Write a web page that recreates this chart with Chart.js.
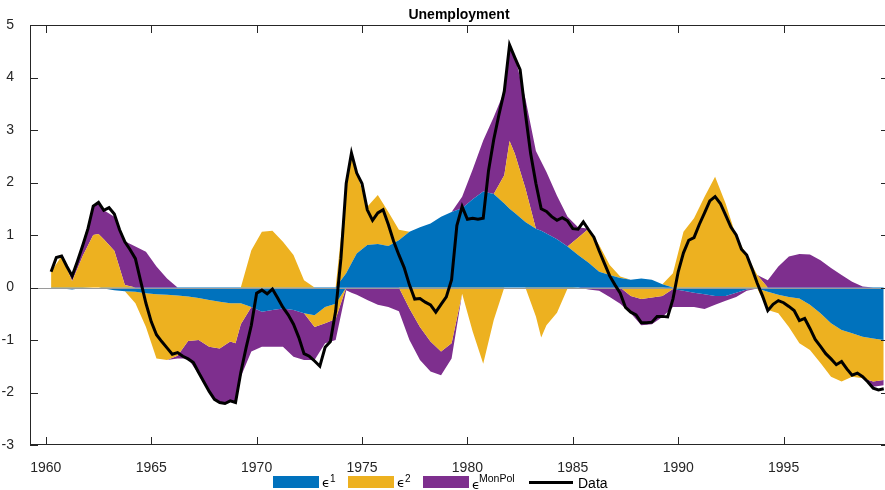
<!DOCTYPE html>
<html>
<head>
<meta charset="utf-8">
<script src="https://cdn.jsdelivr.net/npm/chart.js@4.4.1/dist/chart.umd.min.js"></script>
<style>
  html, body { margin: 0; padding: 0; overflow: hidden; background: #fff; width: 885px; height: 490px; }
  #wrap { position: absolute; left: 0; top: 0; width: 890px; height: 490px; }
  .t { position: absolute; white-space: nowrap; font-family: "Liberation Sans", Arial, Helvetica, sans-serif; color: #000; line-height: 14px; }
  .box { position: absolute; }
</style>
</head>
<body>
<div id="wrap"><canvas id="c" width="890" height="490"></canvas></div>
<div class="t" style="left:0;width:918px;top:7px;text-align:center;font-weight:bold;font-size:14px;">Unemployment</div>

<div class="box" style="left:273px;top:476px;width:46px;height:12px;background:#0072BD"></div>
<div class="t" style="left:322px;top:476px;font-size:13px;font-family:'DejaVu Sans',sans-serif;">ϵ</div>
<div class="t" style="left:330px;top:472px;font-size:10px;">1</div>

<div class="box" style="left:348px;top:476px;width:46px;height:12px;background:#EDB120"></div>
<div class="t" style="left:397px;top:476px;font-size:13px;font-family:'DejaVu Sans',sans-serif;">ϵ</div>
<div class="t" style="left:405px;top:472px;font-size:10px;">2</div>

<div class="box" style="left:423px;top:476px;width:46px;height:12px;background:#7E2F8E"></div>
<div class="t" style="left:472px;top:478px;font-size:13px;font-family:'DejaVu Sans',sans-serif;">ϵ</div>
<div class="t" style="left:479px;top:471px;font-size:10.5px;">MonPol</div>

<div class="box" style="left:529px;top:480.5px;width:44px;height:3px;background:#000"></div>
<div class="t" style="left:578px;top:476px;font-size:14px;">Data</div>

<script>
// ---------- data ----------
const xTicks = [1960, 1965, 1970, 1975, 1980, 1985, 1990, 1995];
const yTicks = [-3, -2, -1, 0, 1, 2, 3, 4, 5];

// dates of the decomposition values (mostly half-yearly)
const areaYears = [
  1960.25, 1960.75, 1961.25, 1961.75, 1962.25, 1962.5, 1962.75, 1963.25, 1963.75, 1964.25,
  1964.75, 1965.25, 1965.75, 1966.25, 1966.75, 1967.25, 1967.75, 1968.25, 1968.75, 1969.0,
  1969.25, 1969.75, 1970.25, 1970.75, 1971.25, 1971.75, 1972.25, 1972.75, 1973.25, 1973.75,
  1974.25, 1974.5, 1974.75, 1975.25, 1975.75, 1976.25, 1976.75, 1977.25, 1977.75, 1978.25,
  1978.75, 1979.25, 1979.75, 1980.25, 1980.75, 1981.25, 1981.75, 1982.0, 1982.25, 1982.75,
  1983.25, 1983.5, 1983.75, 1984.25, 1984.75, 1985.25, 1985.75, 1986.25, 1986.75, 1987.25,
  1987.75, 1988.25, 1988.75, 1989.25, 1989.75, 1990.25, 1990.75, 1991.25, 1991.75, 1992.25,
  1992.75, 1993.25, 1993.75, 1994.25, 1994.75, 1995.25, 1995.75, 1996.25, 1996.75, 1997.25,
  1997.75, 1998.25, 1998.75, 1999.25, 1999.75
];
const shock1 = [
  -0.01, -0.02, -0.04, -0.01, 0.00, 0.00, -0.02, -0.05, -0.07, -0.08,
  -0.11, -0.13, -0.14, -0.15, -0.17, -0.20, -0.24, -0.27, -0.30, -0.30,
  -0.30, -0.37, -0.46, -0.43, -0.40, -0.43, -0.49, -0.53, -0.37, -0.31,
  0.27, 0.46, 0.65, 0.81, 0.83, 0.79, 0.90, 1.06, 1.15, 1.22,
  1.35, 1.44, 1.51, 1.68, 1.83, 1.78, 1.60, 1.50, 1.42, 1.25,
  1.12, 1.08, 1.03, 0.92, 0.78, 0.62, 0.47, 0.30, 0.24, 0.18,
  0.15, 0.17, 0.15, 0.06, -0.03, -0.06, -0.10, -0.13, -0.16, -0.16,
  -0.10, -0.04, -0.02, -0.08, -0.14, -0.18, -0.21, -0.33, -0.49, -0.68,
  -0.81, -0.87, -0.94, -0.97, -1.00
];
const shock2 = [
  0.30, 0.60, 0.12, 0.60, 1.00, 1.02, 0.92, 0.70, 0.05, -0.22,
  -0.64, -1.22, -1.24, -1.15, -0.85, -0.80, -0.89, -0.89, -0.73, -0.76,
  -0.40, 0.71, 1.06, 1.08, 0.87, 0.62, 0.14, -0.22, -0.31, -0.29,
  1.65, 2.04, 1.53, 0.73, 0.93, 0.65, 0.20, -0.40, -0.75, -1.03,
  -1.22, -1.06, -0.12, -0.84, -1.45, -0.62, 0.54, 1.29, 1.13, 0.64,
  -0.55, -0.95, -0.72, -0.48, -0.02, 0.33, 0.65, 0.51, 0.19, 0.03,
  -0.16, -0.22, -0.19, -0.16, 0.27, 1.06, 1.32, 1.73, 2.11, 1.60,
  0.97, 0.62, 0.24, -0.35, -0.35, -0.57, -0.85, -0.86, -0.95, -1.02,
  -0.98, -0.83, -0.79, -0.82, -0.76
];
const shockMonPol = [
  0.00, 0.00, 0.08, 0.25, 0.54, 0.60, 0.55, 0.65, 0.83, 0.78,
  0.68, 0.40, 0.17, -0.05, -0.33, -0.65, -0.85, -1.06, -1.15, -1.13,
  -1.00, -0.85, -0.67, -0.70, -0.73, -0.89, -0.89, -0.63, -0.38, -0.40,
  -0.05, -0.10, -0.14, -0.24, -0.33, -0.37, -0.45, -0.60, -0.63, -0.57,
  -0.45, -0.29, 0.22, 0.57, 0.97, 1.47, 1.60, 1.83, 1.85, 1.71,
  1.48, 1.32, 1.17, 0.83, 0.57, 0.20, -0.04, -0.06, -0.18, -0.31,
  -0.33, -0.50, -0.51, -0.40, -0.34, -0.31, -0.27, -0.28, -0.17, -0.09,
  -0.08, -0.02, 0.00, 0.14, 0.40, 0.59, 0.64, 0.63, 0.52, 0.37,
  0.24, 0.11, 0.02, -0.10, -0.10
];

// quarterly unemployment data, starting 1960.25
const dataStart = 1960.25;
const dataStep = 0.25;
const dataValues = [
  0.30, 0.57, 0.60,
  0.40, 0.22, 0.50, 0.80,
  1.12, 1.55, 1.62, 1.47,
  1.52, 1.40, 1.10, 0.87,
  0.72, 0.55, 0.12, -0.30,
  -0.65, -0.90, -1.03, -1.15,
  -1.27, -1.24, -1.31, -1.36,
  -1.43, -1.62, -1.80, -1.98,
  -2.13, -2.19, -2.21, -2.16,
  -2.19, -1.62, -1.15, -0.72,
  -0.11, -0.05, -0.12, -0.03,
  -0.20, -0.38, -0.52, -0.70,
  -0.95, -1.26, -1.31, -1.40,
  -1.50, -1.14, -1.03, -0.45,
  0.55, 1.98, 2.56, 2.18,
  1.98, 1.48, 1.28, 1.42,
  1.48, 1.20, 0.88, 0.62,
  0.38, 0.05, -0.22, -0.21,
  -0.28, -0.33, -0.47, -0.32,
  -0.18, 0.15, 1.18, 1.54,
  1.30, 1.32, 1.30, 1.32,
  2.22, 2.82, 3.30, 3.74,
  4.62, 4.38, 4.15, 3.32,
  2.55, 1.98, 1.50, 1.45,
  1.35, 1.28, 1.33, 1.27,
  1.12, 1.11, 1.25, 1.10,
  0.96, 0.70, 0.46, 0.22,
  0.05, -0.11, -0.38, -0.47,
  -0.52, -0.67, -0.67, -0.66,
  -0.55, -0.55, -0.56, -0.22,
  0.30, 0.66, 0.90, 0.95,
  1.20, 1.42, 1.65, 1.73,
  1.60, 1.38, 1.15, 1.00,
  0.73, 0.62, 0.36, 0.08,
  -0.16, -0.44, -0.32, -0.25,
  -0.29, -0.36, -0.44, -0.63,
  -0.59, -0.78, -0.99, -1.12,
  -1.26, -1.36, -1.47, -1.41,
  -1.55, -1.67, -1.63, -1.70,
  -1.80, -1.92, -1.95, -1.93
];

// ---------- build ----------
const BLUE = '#0072BD', YELLOW = '#EDB120', PURPLE = '#7E2F8E';
const pos = arr => arr.map((v, i) => ({ x: areaYears[i], y: Math.max(v, 0) }));
const neg = arr => arr.map((v, i) => ({ x: areaYears[i], y: Math.min(v, 0) }));

function areaDs(data, color, stack, fill) {
  return {
    data, stack, fill,
    backgroundColor: color, borderColor: color, borderWidth: 0,
    pointRadius: 0, tension: 0, order: 1
  };
}

const datasets = [
  areaDs(pos(shock1), BLUE, 'pos', 'origin'),
  areaDs(pos(shock2), YELLOW, 'pos', '-1'),
  areaDs(pos(shockMonPol), PURPLE, 'pos', '-1'),
  areaDs(neg(shock1), BLUE, 'neg', 'origin'),
  areaDs(neg(shock2), YELLOW, 'neg', '-1'),
  areaDs(neg(shockMonPol), PURPLE, 'neg', '-1'),
  {
    data: dataValues.map((v, i) => ({ x: dataStart + i * dataStep, y: v })),
    stack: 'data', fill: false,
    borderColor: '#000', borderWidth: 3, pointRadius: 0, tension: 0,
    borderJoinStyle: 'miter', order: 0
  }
];

const AX = '#262626';
const FONT = { family: "'Liberation Sans', Arial, Helvetica, sans-serif", size: 14 };

const axisBox = {
  id: 'axisBox',
  beforeDatasetDraw(chart, args) {
    if (args.index !== 6) return;
    const { ctx, chartArea: a, scales: { y } } = chart;
    const y0 = Math.round(y.getPixelForValue(0)) + 0.5;
    ctx.save();
    ctx.strokeStyle = '#9a9a9a';
    ctx.lineWidth = 1;
    ctx.beginPath(); ctx.moveTo(a.left, y0); ctx.lineTo(a.right, y0); ctx.stroke();
    ctx.restore();
  },
  afterDraw(chart) {
    const { ctx, chartArea: a, scales: { x, y } } = chart;
    ctx.save();
    ctx.strokeStyle = AX;
    ctx.lineWidth = 1;
    ctx.strokeRect(a.left + 0.5, a.top + 0.5, a.right - a.left - 1, a.bottom - a.top - 1);
    const L = 8;
    ctx.beginPath();
    xTicks.forEach(v => {
      const px = Math.round(x.getPixelForValue(v)) + 0.5;
      ctx.moveTo(px, a.bottom); ctx.lineTo(px, a.bottom - L);
      ctx.moveTo(px, a.top); ctx.lineTo(px, a.top + L);
    });
    yTicks.forEach(v => {
      const py = Math.round(y.getPixelForValue(v)) + 0.5;
      ctx.moveTo(a.left, py); ctx.lineTo(a.left + L, py);
      ctx.moveTo(a.right, py); ctx.lineTo(a.right - L, py);
    });
    ctx.stroke();
    ctx.restore();
  }
};

new Chart(document.getElementById('c'), {
  type: 'line',
  data: { datasets },
  plugins: [axisBox],
  options: {
    responsive: false,
    animation: false,
    events: [],
    layout: { padding: { top: 25, right: 1, left: 0, bottom: 0 } },
    plugins: { legend: { display: false }, tooltip: { enabled: false }, title: { display: false } },
    scales: {
      x: {
        type: 'linear', min: 1959.25, max: 2000,
        grid: { display: false }, border: { display: false },
        ticks: { font: FONT, color: AX, padding: 7, maxRotation: 0, autoSkip: false, callback: v => String(v) },
        afterBuildTicks: s => { s.ticks = xTicks.map(v => ({ value: v })); },
        afterFit: s => { s.height = 45; }
      },
      y: {
        stacked: true, min: -3, max: 5,
        grid: { display: false }, border: { display: false },
        ticks: { font: FONT, color: AX, padding: 8, stepSize: 1 },
        afterBuildTicks: s => { s.ticks = yTicks.map(v => ({ value: v })); },
        afterFit: s => { s.width = 30; }
      }
    }
  }
});
</script>
</body>
</html>
